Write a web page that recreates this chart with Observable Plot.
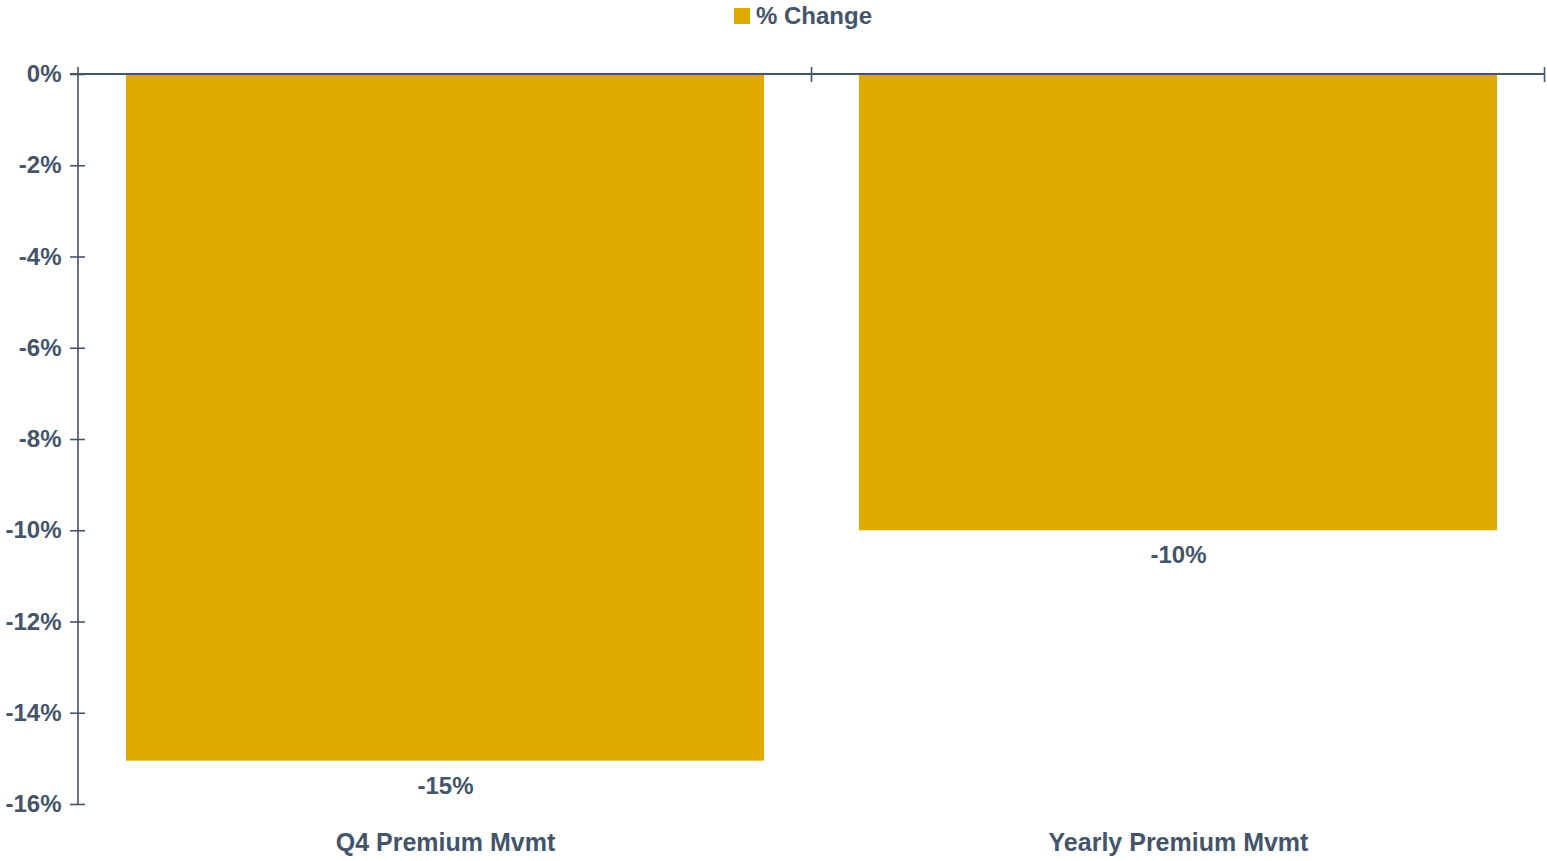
<!DOCTYPE html>
<html>
<head>
<meta charset="utf-8">
<script src="https://cdn.jsdelivr.net/npm/d3@7"></script>
<script src="https://cdn.jsdelivr.net/npm/@observablehq/plot@0.6"></script>
<style>
  html, body { margin: 0; padding: 0; background: #fff; }
  #wrap { position: relative; width: 1547px; height: 861px; font-family: "Liberation Sans", Arial, sans-serif; }
  #legend { position: absolute; top: 2px; left: 734px; display: flex; align-items: center; gap: 6px;
            font-weight: bold; font-size: 24px; color: #44546a; }
  #legend .sw { width: 16px; height: 16px; background: #E0AA00; }
</style>
</head>
<body>
<div id="wrap">
  <div id="legend"><span class="sw"></span><span>% Change</span></div>
</div>
<script>
const categories = ["Q4 Premium Mvmt", "Yearly Premium Mvmt"];
const values = [-15.05, -10.0];
const seriesName = "% Change";
const yTicks = [0, -2, -4, -6, -8, -10, -12, -14, -16];

const ink = "#44546a";
const barColor = "#E0AA00";
const data = categories.map((c, i) => ({cat: c, value: values[i]}));

const axisLines = (index, scales, values_, dimensions) => {
  const g = d3.create("svg:g").attr("stroke", ink).attr("fill", "none");
  const x = scales.x, y = scales.y;
  const mL = dimensions.marginLeft;
  const right = dimensions.width - dimensions.marginRight;
  const y0 = y(0), yMin = y(d3.min(yTicks));
  g.append("line").attr("x1", mL).attr("x2", mL).attr("y1", y0 - 7).attr("y2", yMin).attr("stroke-width", 1.6);
  g.append("line").attr("x1", mL - 8).attr("x2", right).attr("y1", y0).attr("y2", y0).attr("stroke-width", 2);
  const bw = typeof x.bandwidth === "function" ? x.bandwidth() : x.bandwidth;
  const step = x(categories[1]) - x(categories[0]);
  const gap = step - bw;
  categories.forEach(c => {
    const bx = x(c) + bw + gap / 2;
    g.append("line").attr("x1", bx).attr("x2", bx).attr("y1", y0 - 7).attr("y2", y0 + 8).attr("stroke-width", 1.6);
  });
  return g.node();
};

const chart = Plot.plot({
  width: 1547,
  height: 861,
  marginTop: 74,
  marginBottom: 57,
  marginLeft: 78,
  marginRight: 2,
  style: {fontFamily: "'Liberation Sans', Arial, sans-serif", fontWeight: "bold", color: ink, background: "transparent"},
  x: {domain: categories, paddingInner: 0.13, paddingOuter: 0.065, label: null},
  y: {domain: [d3.min(yTicks), 0], label: null},
  marks: [
    Plot.barY(data, {x: "cat", y: "value", fill: barColor}),
    Plot.text(data, {x: "cat", y: "value", text: d => Math.round(d.value) + "%", dy: 25, fontSize: 24, fontWeight: "bold", fill: ink}),
    Plot.axisY({ticks: yTicks, tickFormat: d => d + "%", tickSize: 15, dx: 7, tickPadding: 9, strokeWidth: 1.6, fontSize: 24, fontWeight: "bold", color: ink, label: null}),
    Plot.axisX({anchor: "bottom", tickSize: 0, tickPadding: 29, fontSize: 25, fontWeight: "bold", color: ink, label: null}),
    axisLines
  ]
});
document.getElementById("wrap").prepend(chart);
chart.style.position = "absolute";
chart.style.left = "0";
chart.style.top = "0";
</script>
</body>
</html>
